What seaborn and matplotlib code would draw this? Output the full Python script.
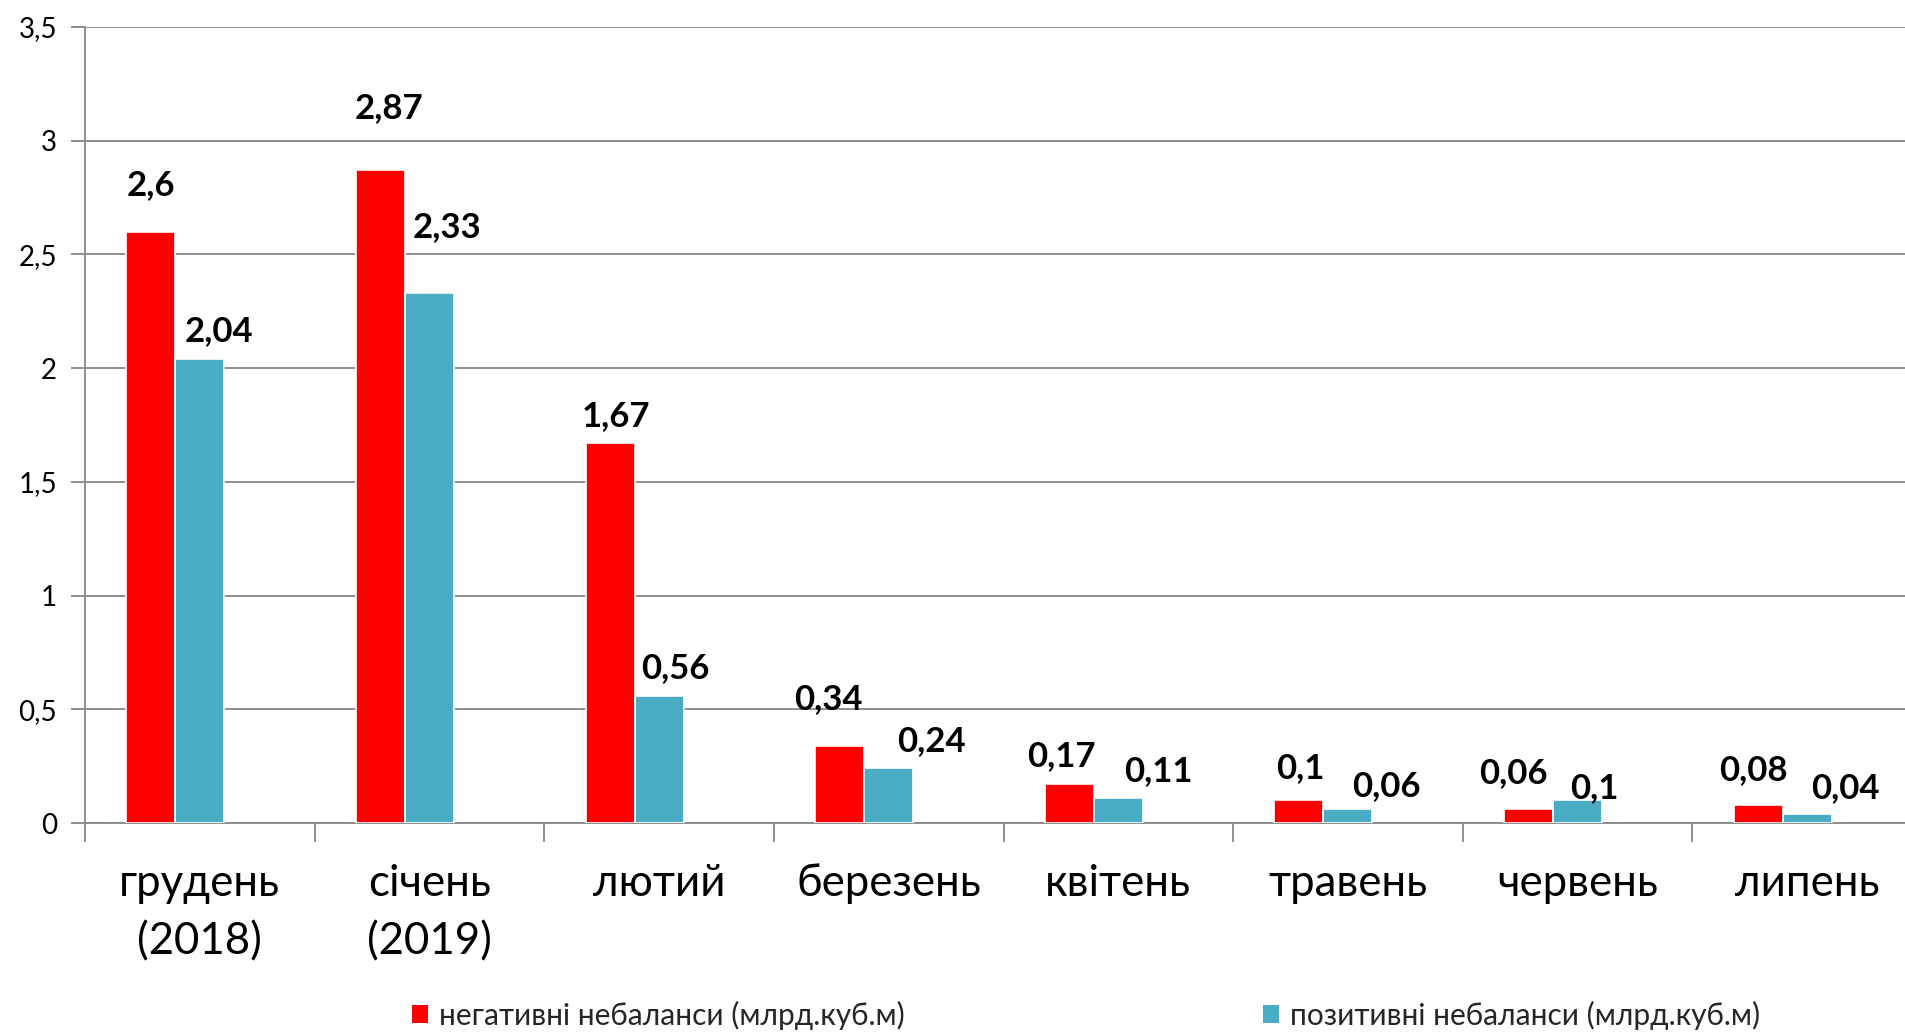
import matplotlib
matplotlib.use("Agg")
import matplotlib.pyplot as plt
import matplotlib.patches as mpatches
from matplotlib.ticker import FixedLocator
import seaborn as sns
import pandas as pd

months = ["грудень\n(2018)", "січень\n(2019)", "лютий", "березень", "квітень", "травень", "червень", "липень"]
negative = [2.6, 2.87, 1.67, 0.34, 0.17, 0.1, 0.06, 0.08]
positive = [2.04, 2.33, 0.56, 0.24, 0.11, 0.06, 0.1, 0.04]
series_names = ["негативні небаланси (млрд.куб.м)", "позитивні небаланси (млрд.куб.м)", " "]
y_ticks = [0, 0.5, 1, 1.5, 2, 2.5, 3, 3.5]

# label offsets (pixels) relative to bar top centre
neg_dx = [0, 8, 6, -11, -8, 1, -15, -5]
neg_dy = [47, 62, 27, 47, 28, 32, 36, 35]
pos_dx = [19, 17, 16, 43, 40, 38, 17, 38]
pos_dy = [28, 66, 28, 27, 27, 23, 12, 26]

RED = "#FF0000"
CYAN = "#4BACC6"
GRID = "#878787"

sns.set_theme(style="white")
plt.rcParams["font.family"] = ["Lato", "Open Sans", "DejaVu Sans"]

df = pd.DataFrame({
    "month": months * 2,
    "value": negative + positive,
    "series": [series_names[0]] * len(months) + [series_names[1]] * len(months),
})

fig = plt.figure(figsize=(19.05, 10.32), dpi=100)
ax = fig.add_axes([85 / 1905, 1 - 823 / 1032, (1922 - 85) / 1905, (823 - 27) / 1032])

sns.barplot(data=df, x="month", y="value", hue="series", order=months,
            hue_order=series_names, palette=[RED, CYAN, "#FFFFFF"], saturation=1,
            width=0.64, dodge=True, edgecolor="white", linewidth=1.2,
            errorbar=None, legend=False, ax=ax, zorder=3)

ax.set_xlim(-0.5, len(months) - 0.5)
ax.set_ylim(0, 3.5)
ax.set_xlabel("")
ax.set_ylabel("")

ax.set_yticks(y_ticks)
ax.set_yticklabels([("%g" % v).replace(".", ",") for v in y_ticks])
ax.yaxis.grid(True, color=GRID, linewidth=1.3, zorder=0)
ax.set_axisbelow(True)
ax.tick_params(axis="y", which="major", length=10, width=1.3, color=GRID,
               direction="out", left=True, pad=10, labelsize=20, labelcolor="black")

ax.xaxis.set_minor_locator(FixedLocator([i - 0.5 for i in range(len(months) + 1)]))
ax.tick_params(axis="x", which="minor", length=14, width=1.3, color=GRID, direction="out", bottom=True)
ax.tick_params(axis="x", which="major", length=0, pad=29, labelsize=31.5, labelcolor="black")
for lbl in ax.get_xticklabels():
    lbl.set_linespacing(1.5)

for side in ["top", "right"]:
    ax.spines[side].set_visible(False)
for side in ["left", "bottom"]:
    ax.spines[side].set_color(GRID)
    ax.spines[side].set_linewidth(1.3)

conts = ax.containers
for bar, v, dx, dy in zip(conts[0], negative, neg_dx, neg_dy):
    ax.annotate(("%g" % v).replace(".", ","), (bar.get_x() + bar.get_width() / 2, v),
                xytext=(dx, dy), textcoords="offset pixels", ha="center", va="center",
                fontsize=25, fontweight="bold", color="black", zorder=5)
for bar, v, dx, dy in zip(conts[1], positive, pos_dx, pos_dy):
    ax.annotate(("%g" % v).replace(".", ","), (bar.get_x() + bar.get_width() / 2, v),
                xytext=(dx, dy), textcoords="offset pixels", ha="center", va="center",
                fontsize=25, fontweight="bold", color="black", zorder=5)

handles = [mpatches.Patch(facecolor=RED, edgecolor="none", label=series_names[0]),
           mpatches.Patch(facecolor=CYAN, edgecolor="none", label=series_names[1])]
fig.legend(handles=handles, loc="center left", bbox_to_anchor=(412 / 1905, 1 - 1015 / 1032),
           ncol=2, frameon=False, fontsize=21.5, handlelength=0.55, handleheight=0.55,
           handletextpad=0.35, columnspacing=12.0, borderaxespad=0, borderpad=0)

fig.savefig("out.png", dpi=100, facecolor="white")
